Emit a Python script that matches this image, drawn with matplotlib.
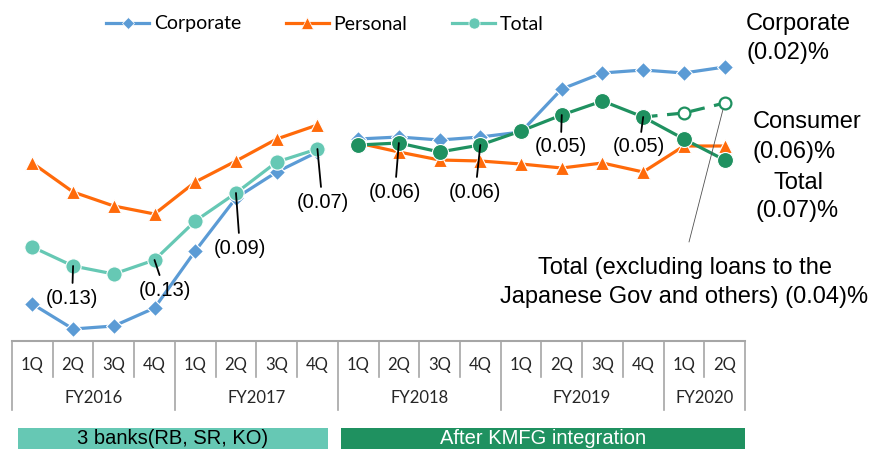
import numpy as np
import matplotlib
matplotlib.use("Agg")
import matplotlib.pyplot as plt
from matplotlib.lines import Line2D
from matplotlib.patches import Rectangle

# ---------------- data ----------------
quarters = ['1Q', '2Q', '3Q', '4Q', '1Q', '2Q', '3Q', '4Q', '1Q', '2Q', '3Q', '4Q',
            '1Q', '2Q', '3Q', '4Q', '1Q', '2Q']
fiscal_years = ['FY2016', 'FY2017', 'FY2018', 'FY2019', 'FY2020']
quarters_per_year = [4, 4, 4, 4, 2]
# relative level of each series (hidden axis, higher = better)
corporate = [37, 12, 15, 33, 90, 143, 169, 189, 202, 204, 201, 204, 209, 252, 268, 271, 268, 274]
personal = [178, 149, 135, 127, 159, 180, 202, 216, 198, 189, 181, 180, 177, 173, 178, 169, 195, 195]
total = [94, 75, 67, 81, 120, 148, 179, 192, 196, 198, 189, 196, 210, 226, 240, 224, 202, 181]
total_ex_gov_idx = [15, 16, 17]
total_ex_gov = [224, 228, 238]
integration_start = 8  # first quarter after KMFG integration
ann_idx = [1, 3, 5, 7, 9, 11, 13, 15]
ann_text = ['(0.13)', '(0.13)', '(0.09)', '(0.07)', '(0.06)', '(0.06)', '(0.05)', '(0.05)']
periods = ['3 banks(RB, SR, KO)', 'After KMFG integration']

# ---------------- style ----------------
BLUE = '#5B9BD5'
ORANGE = '#FF6A0A'
TEAL = '#66C8B4'
DGREEN = '#1F9160'
GRAY = '#A6A6A6'
ARIAL = 'Liberation Sans'
CAL = 'Lato'

W, H = 869, 449
fig = plt.figure(figsize=(W / 100, H / 100), dpi=100)

ax = fig.add_axes([12 / W, 1 - 341 / H, 733 / W, 341 / H])
ax.set_xlim(-0.5, 17.5)
ax.set_ylim(0, 341)
ax.axis('off')

x = np.arange(len(quarters))
segs = [slice(0, integration_start), slice(integration_start, len(quarters))]

for s in segs:
    ax.plot(x[s], personal[s], color=ORANGE, lw=2.3, marker='^', ms=10,
            mec='white', mew=0.8, zorder=2, solid_joinstyle='round')
for s in segs:
    ax.plot(x[s], corporate[s], color=BLUE, lw=2.3, marker='D', ms=8,
            mec='white', mew=0.8, zorder=2.2, solid_joinstyle='round')

# total excluding loans to the Japanese Gov (dashed)
ax.plot(total_ex_gov_idx, total_ex_gov, color=DGREEN, lw=2.3, ls=(0, (4.5, 3)),
        marker='o', ms=8.5, mfc='white', mec=DGREEN, mew=1.6, zorder=2.3,
        markevery=[1, 2])

ax.plot(x[segs[0]], total[segs[0]], color=TEAL, lw=2.3, marker='o', ms=11,
        mec='white', mew=0.8, zorder=2.5)
ax.plot(x[segs[1]], total[segs[1]], color=DGREEN, lw=2.3, marker='o', ms=11.5,
        mec='white', mew=0.8, zorder=2.5)

offsets = [(-1, -32), (10, -30), (4, -55), (5, -53), (-4, -49), (-5, -47), (-1, -32), (-4, -30)]
for i, t, off in zip(ann_idx, ann_text, offsets):
    ax.annotate(t, xy=(i, total[i]), xytext=off, textcoords='offset pixels',
                ha='center', va='center', fontsize=14.5, family=ARIAL,
                color='black', zorder=4,
                arrowprops=dict(arrowstyle='-', color='black', lw=1.3,
                                shrinkA=2, shrinkB=0))

# thin leader line to the dashed series
ax.annotate('', xy=(total_ex_gov_idx[-1], total_ex_gov[-1]), xytext=(689, H - 242),
            textcoords='figure pixels',
            arrowprops=dict(arrowstyle='-', color='#505050', lw=0.6, shrinkA=0, shrinkB=5))

# ---------------- right-side labels ----------------
def ftext(px, py, s, ha='left', size=17, color='black', **kw):
    fig.text(px / W, 1 - py / H, s, ha=ha, va='center', fontsize=size,
             family=ARIAL, color=color, **kw)

ftext(746, 24, 'Corporate')
ftext(746, 53, '(0.02)%')
ftext(753, 122, 'Consumer')
ftext(753, 152, '(0.06)%')
ftext(798, 183, 'Total', ha='center')
ftext(797, 211, '(0.07)%', ha='center')
ftext(685, 268, 'Total (excluding loans to the', ha='center')
ftext(684, 297, 'Japanese Gov and others) (0.04)%', ha='center')

# ---------------- legend ----------------
handles = [
    Line2D([], [], color=BLUE, lw=2.3, marker='D', ms=6, mec='white', mew=0.5),
    Line2D([], [], color=ORANGE, lw=2.3, marker='^', ms=8.5, mec='white', mew=0.5),
    Line2D([], [], color=TEAL, lw=2.3, marker='o', ms=8, mec='white', mew=0.5),
]
fig.legend(handles, ['Corporate', 'Personal', 'Total'], loc='center',
           bbox_to_anchor=(325 / W, 1 - 24 / H), ncol=3, frameon=False,
           prop={'family': CAL, 'size': 14}, handlelength=2.2, handletextpad=0.25,
           columnspacing=2.3, borderpad=0, borderaxespad=0)

# ---------------- category table ----------------
tab = fig.add_axes([12 / W, 1 - 410 / H, 733 / W, 69 / H])
tab.set_xlim(-0.5, 17.5)
tab.set_ylim(69, 0)
tab.axis('off')
tab.plot([-0.5, 17.5], [0, 0], color=GRAY, lw=1.5, clip_on=False)
bounds = np.cumsum([0] + quarters_per_year) - 0.5
for i in range(len(quarters) - 1):
    b = i + 0.5
    if b in bounds:
        continue
    tab.plot([b, b], [0, 36], color=GRAY, lw=1.2, clip_on=False)
for b in bounds:
    tab.plot([b, b], [0, 69], color=GRAY, lw=1.2, clip_on=False)
for i, q in enumerate(quarters):
    tab.text(i, 24, q, ha='center', va='center', fontsize=12, family=CAL, color='#262626')
for k, fy in enumerate(fiscal_years):
    c = (bounds[k] + bounds[k + 1]) / 2
    tab.text(c, 57, fy, ha='center', va='center', fontsize=12, family=CAL, color='#262626')

# ---------------- period banners ----------------
for (x0, x1), label, col, tcol in zip([(18, 328), (341, 745)], periods,
                                      [TEAL, DGREEN], ['black', 'white']):
    fig.add_artist(Rectangle((x0 / W, 0), (x1 - x0) / W, (H - 428) / H,
                             transform=fig.transFigure, color=col, lw=0))
    fig.text((x0 + x1) / 2 / W, 1 - 439 / H, label, ha='center', va='center',
             fontsize=14.5, family=ARIAL, color=tcol)

fig.savefig('out.png', dpi=100)
